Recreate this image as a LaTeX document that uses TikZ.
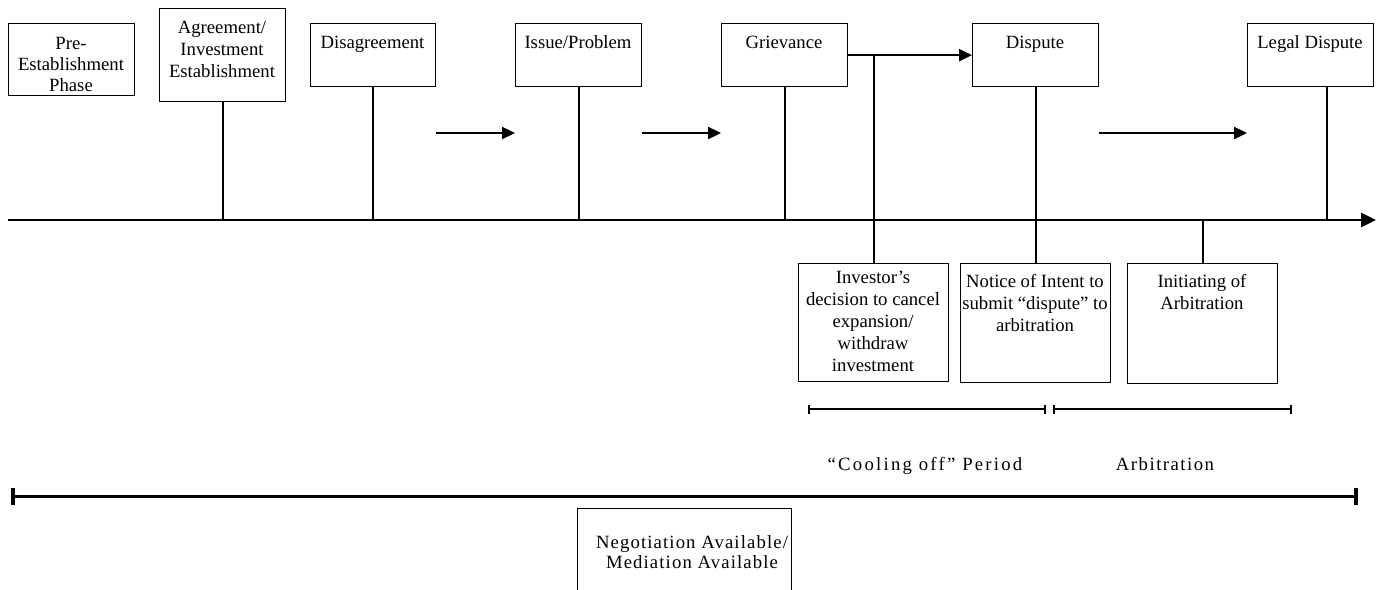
\documentclass[tikz,border=0pt]{standalone}
\usepackage{fontspec}
\setmainfont{Liberation Serif}
\usetikzlibrary{arrows.meta}
\newcommand{\mlines}[1]{\vtop{\halign{\hfil##\hfil\cr#1\crcr}}}
\begin{document}
\begin{tikzpicture}[x=1pt,y=-1pt,
  box/.style={draw, line width=1.3pt, rectangle, inner sep=0pt, anchor=north west},
  lbl/.style={font=\fontsize{18.7}{22}\selectfont, inner sep=0pt, anchor=base},
  stem/.style={line width=2.3pt},
  flow/.style={line width=2.3pt, -{Triangle[length=13pt,width=12pt]}},
  axisline/.style={line width=2.6pt, -{Triangle[length=15pt,width=14pt]}},
  span/.style={line width=2.3pt, {Bar[width=9pt]}-{Bar[width=9pt]}},
  bigspan/.style={line width=3pt, {Bar[width=17pt,line width=4pt]}-{Bar[width=17pt,line width=4pt]}},
]
\clip (0,0) rectangle (1380,589);
\fill[white] (0,0) rectangle (1380,589);

% reference coordinates
\coordinate (axL) at (8,220);
\coordinate (axR) at (1376,220);
\coordinate (row) at (0,133);

% top boxes
\node[box, minimum width=126, minimum height=72] (pre) at (8,23) {};
\node[box, minimum width=126, minimum height=93] (agr) at (159,8) {};
\node[box, minimum width=125, minimum height=63] (dis) at (310,23) {};
\node[box, minimum width=126, minimum height=63] (iss) at (515,23) {};
\node[box, minimum width=126, minimum height=63] (grv) at (721,23) {};
\node[box, minimum width=126, minimum height=63] (dsp) at (972,23) {};
\node[box, minimum width=126, minimum height=63] (leg) at (1247,23) {};

% bottom boxes
\node[box, minimum width=150, minimum height=118] (inv) at (798,263) {};
\node[box, minimum width=150, minimum height=119] (ntc) at (960,263) {};
\node[box, minimum width=150, minimum height=120] (ini) at (1127,263) {};
\node[box, minimum width=214, minimum height=120] (neg) at (577,508) {};

% labels
\node[lbl, font=\fontsize{18.7}{21}\selectfont] (preT) at (71,49) {\mlines{Pre-\cr Establishment\cr Phase}};
\node[lbl] (agrT) at (222,33) {\mlines{Agreement/\cr Investment\cr Establishment}};
\node[lbl] (disT) at (372.5,48) {Disagreement};
\node[lbl] (issT) at (578,48) {Issue/Problem};
\node[lbl] (grvT) at (784,48) {Grievance};
\node[lbl] (dspT) at (1035,48) {Dispute};
\node[lbl] (legT) at (1310,48) {Legal Dispute};
\node[lbl] (invT) at (873,283) {\mlines{Investor’s\cr decision to cancel\cr expansion/\cr withdraw\cr investment}};
\node[lbl] (ntcT) at (1035,287) {\mlines{Notice of Intent to\cr submit “dispute” to\cr arbitration}};
\node[lbl] (iniT) at (1202,287) {\mlines{Initiating of\cr Arbitration}};
\node[lbl, font=\fontsize{18.7}{20}\selectfont\addfontfeature{LetterSpace=6}] (negT) at (692,548) {\mlines{Negotiation Available/\cr Mediation Available}};
\node[lbl, font=\fontsize{18.7}{22}\selectfont\addfontfeature{LetterSpace=12}] (coolT) at (925,470) {“Cooling off” Period};
\node[lbl, font=\fontsize{18.7}{22}\selectfont\addfontfeature{LetterSpace=8}] (arbT) at (1165,470) {Arbitration};

% main axis
\draw[axisline] (axL) -- (axR);

% stems
\draw[stem] (agr.south) -- (agr.south |- axL);
\draw[stem] (dis.south) -- (dis.south |- axL);
\draw[stem] (iss.south) -- (iss.south |- axL);
\draw[stem] (grv.south) -- (grv.south |- axL);
\draw[stem] (dsp.south) -- (ntc.north);
\draw[stem] ([xshift=16pt]leg.south) -- ([xshift=16pt]leg.south |- axL);
\draw[stem] (ini.north |- axL) -- (ini.north);
\draw[stem] (inv.north |- grv.east) -- (inv.north);

% flow arrows
\draw[flow] (grv.east) -- (dsp.west);
\draw[flow] (dis.east |- row) -- (iss.west |- row);
\draw[flow] (iss.east |- row) -- (grv.west |- row);
\draw[flow] (dsp.east |- row) -- (leg.west |- row);

% spans
\coordinate (c1) at (808,409);
\coordinate (c2) at (1046,409);
\coordinate (a1) at (1053,409);
\coordinate (a2) at (1292,409);
\draw[span] (c1) -- (c2);
\draw[span] (a1) -- (a2);
\coordinate (n1) at (11,496);
\coordinate (n2) at (1358,496);
\draw[bigspan] (n1) -- (n2);
\end{tikzpicture}
\end{document}
